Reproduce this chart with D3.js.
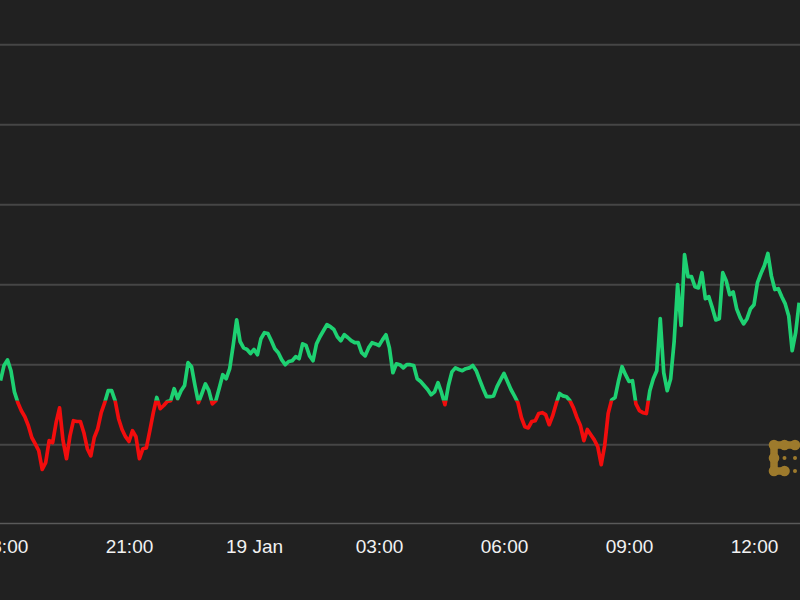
<!DOCTYPE html>
<html>
<head>
<meta charset="utf-8">
<script src="https://cdn.jsdelivr.net/npm/d3@7"></script>
<style>
  html, body { margin: 0; padding: 0; background: #212121; }
  svg { display: block; }
</style>
</head>
<body>
<svg id="chart" width="800" height="600"></svg>
<script>
// ---- data ----
const startTime = new Date(2024, 0, 18, 17, 55); // first sample
const stepMinutes = 5;
const prices = [
  40760, 40798, 40812, 40785, 40732, 40705, 40685, 40670, 40648, 40618,
  40602, 40585, 40538, 40555, 40610, 40605, 40655, 40692, 40610, 40565,
  40622, 40660, 40658, 40658, 40630, 40590, 40572, 40618, 40640, 40680,
  40705, 40735, 40735, 40710, 40665, 40638, 40620, 40608, 40635, 40620,
  40565, 40590, 40592, 40635, 40680, 40718, 40690, 40698, 40708, 40710,
  40740, 40715, 40735, 40748, 40805, 40795, 40748, 40705, 40728, 40752,
  40735, 40702, 40710, 40742, 40775, 40765, 40790, 40848, 40912, 40858,
  40842, 40838, 40828, 40838, 40825, 40865, 40880, 40878, 40860, 40840,
  40830, 40812, 40800, 40808, 40810, 40820, 40815, 40852, 40848, 40822,
  40810, 40852, 40870, 40885, 40900, 40895, 40888, 40870, 40860, 40875,
  40868, 40860, 40855, 40855, 40830, 40822, 40842, 40855, 40852, 40848,
  40862, 40875, 40842, 40780, 40802, 40800, 40792, 40800, 40800, 40798,
  40765, 40758, 40748, 40738, 40725, 40732, 40755, 40730, 40700, 40748,
  40782, 40792, 40788, 40785, 40790, 40792, 40798, 40785, 40762, 40740,
  40720, 40720, 40722, 40745, 40762, 40778, 40758, 40738, 40722, 40705,
  40668, 40645, 40642, 40658, 40660, 40678, 40680, 40675, 40650, 40672,
  40702, 40728, 40722, 40720, 40710, 40692, 40668, 40648, 40610, 40638,
  40625, 40612, 40595, 40550, 40598, 40678, 40712, 40718, 40760, 40795,
  40775, 40758, 40760, 40702, 40685, 40680, 40678, 40735, 40765, 40785,
  40915, 40780, 40735, 40765, 40858, 41000, 40898, 41075, 41020, 41020,
  40995, 40992, 41030, 40965, 40970, 40942, 40912, 40915, 41030, 41010,
  40975, 40982, 40940, 40918, 40902, 40915, 40940, 40950, 41005, 41028,
  41048, 41078, 41022, 40988, 40990, 40970, 40952, 40922, 40835, 40880,
  40955
];
const referencePrice = 40710;            // green above, red below
const gridValues = [40600, 40800, 41000, 41200, 41400, 41600];
const tickTimes = [
  new Date(2024, 0, 18, 18, 0), new Date(2024, 0, 18, 21, 0),
  new Date(2024, 0, 19, 0, 0), new Date(2024, 0, 19, 3, 0),
  new Date(2024, 0, 19, 6, 0), new Date(2024, 0, 19, 9, 0),
  new Date(2024, 0, 19, 12, 0)
];
const tickLabels = ["18:00", "21:00", "19 Jan", "03:00", "06:00", "09:00", "12:00"];

// ---- build ----
const W = 800, H = 600;
const svg = d3.select("#chart");
svg.append("rect").attr("width", W).attr("height", H).attr("fill", "#212121");

const data = prices.map((p, i) => ({
  t: d3.timeMinute.offset(startTime, i * stepMinutes),
  v: p
}));

const x = d3.scaleTime()
  .domain([tickTimes[0], tickTimes[tickTimes.length - 1]])
  .range([4, 754]);
const y = d3.scaleLinear().domain([40400, 41600]).range([524.7, 44.7]);

// gridlines
svg.append("g").selectAll("line").data(gridValues).join("line")
  .attr("x1", 0).attr("x2", W)
  .attr("y1", d => y(d)).attr("y2", d => y(d))
  .attr("stroke", "#464646").attr("stroke-width", 2);

// x axis
const xAxis = d3.axisBottom(x)
  .tickValues(tickTimes)
  .tickFormat((d, i) => tickLabels[i])
  .tickSize(0).tickPadding(0);
const gx = svg.append("g").attr("transform", "translate(0,523.5)").call(xAxis);
gx.select(".domain").remove();
gx.selectAll("text")
  .attr("y", 29.5).attr("dy", 0)
  .attr("fill", "#f2f2f2")
  .attr("font-family", "'Liberation Sans', Arial, Helvetica, sans-serif")
  .attr("font-size", 19);
svg.append("line").attr("x1", 0).attr("x2", W).attr("y1", 523.5).attr("y2", 523.5)
  .attr("stroke", "#5a5a5a").attr("stroke-width", 1.5);

// split line colour at reference price
const yRef = y(referencePrice);
const defs = svg.append("defs");
defs.append("clipPath").attr("id", "clipUp")
  .append("rect").attr("x", 0).attr("y", 0).attr("width", W).attr("height", yRef);
defs.append("clipPath").attr("id", "clipDown")
  .append("rect").attr("x", 0).attr("y", yRef).attr("width", W).attr("height", H - yRef);

const line = d3.line().x(d => x(d.t)).y(d => y(d.v));
svg.append("path").datum(data).attr("d", line)
  .attr("fill", "none").attr("stroke", "#1ed172").attr("stroke-width", 3.7)
  .attr("stroke-linejoin", "round").attr("clip-path", "url(#clipUp)");
svg.append("path").datum(data).attr("d", line)
  .attr("fill", "none").attr("stroke", "#f20d0d").attr("stroke-width", 3.7)
  .attr("stroke-linejoin", "round").attr("clip-path", "url(#clipDown)");

// logo (decorative mark, bottom right)
const logo = svg.append("g").attr("transform", "translate(774,445)");
const gold = "#9d7a2c";
logo.append("path")
  .attr("d", "M21,0 L0,0 L0,26 L10.5,26")
  .attr("fill", "none").attr("stroke", gold).attr("stroke-width", 7.5)
  .attr("stroke-linecap", "round").attr("stroke-linejoin", "round");
[[0, 0], [10.5, 0], [21, 0], [0, 13], [0, 26], [10.5, 26]].forEach(([cx, cy]) => {
  logo.append("circle").attr("cx", cx).attr("cy", cy).attr("r", 5.3).attr("fill", gold);
});
[[10.5, 13], [21, 13], [21, 26]].forEach(([cx, cy]) => {
  logo.append("circle").attr("cx", cx).attr("cy", cy).attr("r", 2).attr("fill", gold);
});
</script>
</body>
</html>
